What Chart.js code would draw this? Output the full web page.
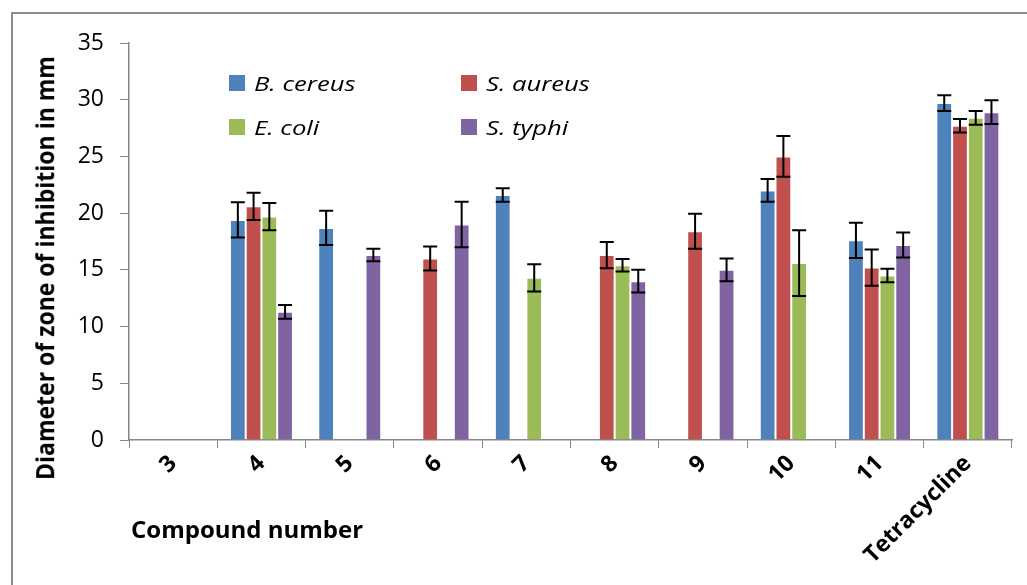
<!DOCTYPE html>
<html lang="en">
<head>
    <meta charset="UTF-8">
    <title>Zone of inhibition</title>
    <script src="https://cdn.jsdelivr.net/npm/chart.js"></script>
    <style>
        body {
            margin: 0;
            width: 1027px;
            height: 585px;
            overflow: hidden;
            background: #fff;
            position: relative;
            font-family: 'Open Sans', sans-serif;
        }
        #frame {
            position: absolute;
            left: 11px;
            top: 12px;
            width: 1030px;
            height: 600px;
            border-left: 2px solid #8c8c8c;
            border-top: 2px solid #8c8c8c;
        }
        #chart {
            position: absolute;
            left: 0;
            top: 0;
        }
        .legend-item {
            position: absolute;
            height: 20px;
            display: flex;
            align-items: center;
        }
        .legend-item .box {
            width: 16px;
            height: 16px;
            margin-right: 9px;
        }
        .legend-item .label {
            font-style: italic;
            font-size: 20px;
            transform: scaleX(1.28);
            transform-origin: left center;
            white-space: nowrap;
        }
        #yTitle {
            position: absolute;
            left: 45px;
            top: 268px;
            font-weight: bold;
            font-size: 23px;
            white-space: nowrap;
            transform: translate(-50%, -50%) rotate(-90deg) scaleY(1.05);
        }
        #xTitle {
            position: absolute;
            left: 131px;
            top: 512px;
            font-weight: bold;
            font-size: 24px;
            white-space: nowrap;
        }
    </style>
</head>
<body>
<div id="frame"></div>
<canvas id="chart" width="1027" height="585"></canvas>
<div id="legend"></div>
<div id="yTitle">Diameter of zone of inhibition in mm</div>
<div id="xTitle">Compound number</div>

<script>
    // values
    const categories = ['3', '4', '5', '6', '7', '8', '9', '10', '11', 'Tetracycline'];

    const bCereus    = [null, 19.4, 18.7, null, 21.6, null, null, 22.0, 17.6, 29.7];
    const bCereusErr = [null, 1.55, 1.5,  null, 0.6,  null, null, 1.0,  1.55, 0.7];
    const sAureus    = [null, 20.6, null, 16.0, null, 16.3, 18.4, 25.0, 15.2, 27.7];
    const sAureusErr = [null, 1.2,  null, 1.05, null, 1.15, 1.55, 1.8,  1.6,  0.6];
    const eColi      = [null, 19.7, null, null, 14.3, 15.4, null, 15.6, 14.5, 28.4];
    const eColiErr   = [null, 1.2,  null, null, 1.2,  0.55, null, 2.9,  0.6,  0.6];
    const sTyphi     = [null, 11.3, 16.3, 19.0, null, 14.0, 15.0, null, 17.2, 28.9];
    const sTyphiErr  = [null, 0.6,  0.55, 2.0,  null, 1.0,  1.0,  null, 1.1,  1.05];

    const yTicks = [0, 5, 10, 15, 20, 25, 30, 35];

    const seriesNames = ['B. cereus', 'S. aureus', 'E. coli', 'S. typhi'];
    const seriesColors = ['#4f81bd', '#c0504d', '#9bbb59', '#8064a2'];
    const seriesValues = [bCereus, sAureus, eColi, sTyphi];
    const seriesErrors = [bCereusErr, sAureusErr, eColiErr, sTyphiErr];

    // error bars drawn from the bar elements and the y scale
    const errorBars = {
        id: 'errorBars',
        afterDatasetsDraw(chart) {
            const ctx = chart.ctx;
            const y = chart.scales.y;
            ctx.save();
            ctx.strokeStyle = '#000';
            ctx.lineWidth = 2;
            chart.data.datasets.forEach((ds, di) => {
                const meta = chart.getDatasetMeta(di);
                ds.data.forEach((v, i) => {
                    const err = seriesErrors[di][i];
                    if (v == null || err == null) return;
                    const x = meta.data[i].x;
                    const top = y.getPixelForValue(v + err);
                    const bottom = y.getPixelForValue(v - err);
                    const cap = 7;
                    ctx.beginPath();
                    ctx.moveTo(x, top);
                    ctx.lineTo(x, bottom);
                    ctx.moveTo(x - cap, top);
                    ctx.lineTo(x + cap, top);
                    ctx.moveTo(x - cap, bottom);
                    ctx.lineTo(x + cap, bottom);
                    ctx.stroke();
                });
            });
            ctx.restore();
        }
    };

    const chart = new Chart(document.getElementById('chart'), {
        type: 'bar',
        data: {
            labels: categories,
            datasets: seriesNames.map((name, i) => ({
                label: name,
                data: seriesValues[i],
                backgroundColor: seriesColors[i],
                borderColor: 'rgba(255,255,255,0.35)',
                borderWidth: 1,
                categoryPercentage: 0.713,
                barPercentage: 1.0
            }))
        },
        options: {
            responsive: false,
            animation: false,
            layout: { padding: { left: 0, top: 43, right: 15, bottom: 0 } },
            plugins: {
                legend: { display: false },
                tooltip: { enabled: false }
            },
            scales: {
                x: {
                    grid: {
                        display: true,
                        drawOnChartArea: false,
                        offset: true,
                        tickLength: 8,
                        color: '#868686'
                    },
                    border: { color: '#868686', width: 1.5 },
                    ticks: {
                        autoSkip: false,
                        minRotation: 45,
                        maxRotation: 45,
                        padding: 2,
                        color: '#000',
                        font: { family: 'Open Sans', weight: 'bold', size: 23 }
                    },
                    afterFit(scale) { scale.height = 145; }
                },
                y: {
                    min: 0,
                    max: 35,
                    afterBuildTicks(scale) {
                        scale.ticks = yTicks.map(v => ({ value: v }));
                    },
                    grid: {
                        display: true,
                        drawOnChartArea: false,
                        tickLength: 9,
                        color: '#868686'
                    },
                    border: { color: '#868686', width: 1.5 },
                    ticks: {
                        padding: 16,
                        color: '#000',
                        font: { family: 'Open Sans', size: 23 }
                    },
                    afterFit(scale) { scale.width = 129; }
                }
            }
        },
        plugins: [errorBars]
    });

    // legend laid out in two columns inside the plot, as in the picture
    const legendSpots = [[229, 73], [461, 73], [229, 117], [461, 117]];
    const legend = document.getElementById('legend');
    seriesNames.forEach((name, i) => {
        const item = document.createElement('div');
        item.className = 'legend-item';
        item.style.left = legendSpots[i][0] + 'px';
        item.style.top = legendSpots[i][1] + 'px';
        item.innerHTML = '<div class="box" style="background:' + seriesColors[i] + '"></div>' +
            '<div class="label">' + name + '</div>';
        legend.appendChild(item);
    });
</script>
</body>
</html>
